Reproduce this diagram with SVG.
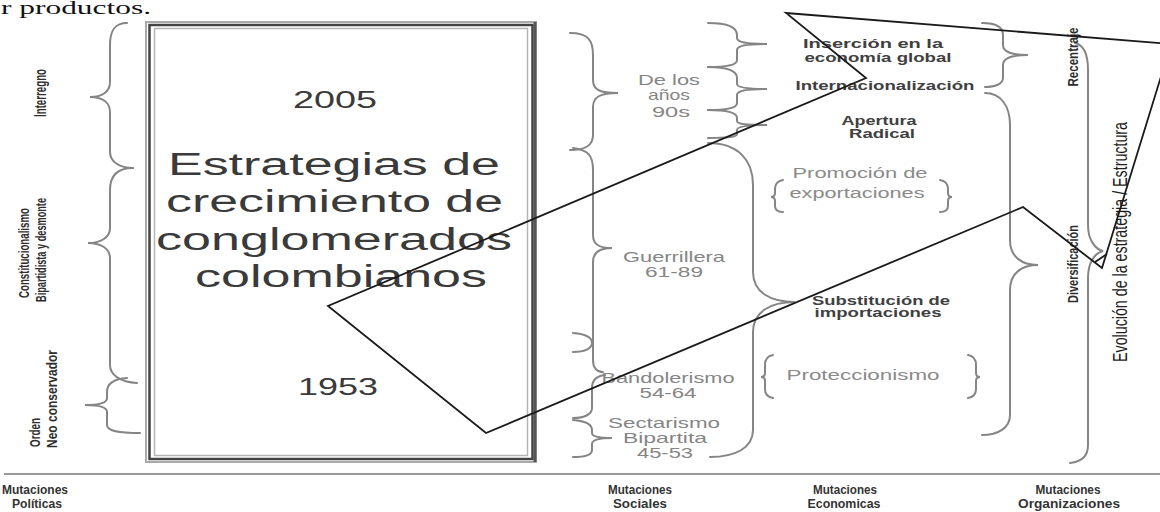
<svg xmlns="http://www.w3.org/2000/svg" width="1160" height="512" viewBox="0 0 1160 512">
<style>
.br{fill:none;stroke:#858585;stroke-width:2;stroke-linecap:round}
.big{font-family:"Liberation Sans",Arial,sans-serif;fill:#3a3a3a}
.soc{font-family:"Liberation Sans",Arial,sans-serif;fill:#858585;font-size:15px}
.eco{font-family:"Liberation Sans",Arial,sans-serif;fill:#8a8a8a;font-size:14px}
.bold{font-family:"Liberation Sans",Arial,sans-serif;fill:#404040;font-size:12.5px;font-weight:bold}
.vert{font-family:"Liberation Sans",Arial,sans-serif;fill:#2e2e2e;font-weight:bold;font-size:11px}
.foot{font-family:"Liberation Sans",Arial,sans-serif;fill:#333333;font-size:13px;font-weight:bold}
.poly{fill:none;stroke:#1a1a1a;stroke-width:1.8;stroke-linejoin:miter}
</style>
<rect width="1160" height="512" fill="#ffffff"/>
<text x="1" y="14" font-family="Liberation Serif, serif" font-size="18" fill="#111" textLength="150" lengthAdjust="spacingAndGlyphs">r productos.</text>

<g id="politicas">
<path class="br" d="M127,23 C115,23 110,30 110,45 L110,82 C110,92 102,97 90,97 C102,97 110,102 110,112 L110,152 C110,162 120,168 133,168"/>
<path class="br" d="M133,168 C118,168 110,175 110,190 L110,228 C110,238 100,243 88,243 C100,243 110,248 110,258 L110,365 C110,375 120,382 137,383"/>
<path class="br" d="M127,378 C112,379 107,384 107,392 L107,398 C107,403 98,405 85,405 C98,405 107,407 107,412 L107,425 C107,431 118,433 140,433"/>
<text class="vert" text-anchor="middle" transform="translate(45.5,93) rotate(-90) scale(1,1.45)" textLength="48" lengthAdjust="spacingAndGlyphs">Interregno</text>
<text class="vert" text-anchor="middle" transform="translate(29,253) rotate(-90) scale(1,1.4)" textLength="90" lengthAdjust="spacingAndGlyphs">Constitucionalismo</text>
<text class="vert" text-anchor="middle" transform="translate(45.5,250) rotate(-90) scale(1,1.4)" textLength="104" lengthAdjust="spacingAndGlyphs">Bipartidista y desmonte</text>
<text class="vert" text-anchor="start" transform="translate(40,447) rotate(-90) scale(1,1.4)" textLength="29" lengthAdjust="spacingAndGlyphs">Orden</text>
<text class="vert" text-anchor="start" transform="translate(56.5,448) rotate(-90) scale(1,1.4)" textLength="98" lengthAdjust="spacingAndGlyphs">Neo conservador</text>
</g>

<g id="titulo">
<rect x="146" y="22" width="390" height="440" fill="none" stroke="#aaaaaa" stroke-width="2"/>
<rect x="149.5" y="25" width="383" height="434" fill="none" stroke="#444444" stroke-width="2.5"/>
<rect x="154.5" y="28.5" width="373" height="427" fill="none" stroke="#b5b5b5" stroke-width="1.5"/>
<line x1="535" y1="22" x2="535" y2="462" stroke="#555555" stroke-width="3"/>
<text class="big" x="335" y="108" font-size="24" text-anchor="middle" textLength="84" lengthAdjust="spacingAndGlyphs">2005</text>
<text class="big" x="334" y="175" font-size="31" text-anchor="middle" textLength="332" lengthAdjust="spacingAndGlyphs">Estrategias de</text>
<text class="big" x="334.5" y="212" font-size="31" text-anchor="middle" textLength="337" lengthAdjust="spacingAndGlyphs">crecimiento de</text>
<text class="big" x="334" y="250" font-size="31" text-anchor="middle" textLength="356" lengthAdjust="spacingAndGlyphs">conglomerados</text>
<text class="big" x="341" y="287" font-size="31" text-anchor="middle" textLength="292" lengthAdjust="spacingAndGlyphs">colombianos</text>
<text class="big" x="338" y="395" font-size="24" text-anchor="middle" textLength="80" lengthAdjust="spacingAndGlyphs">1953</text>
</g>

<g id="sociales">
<path class="br" d="M570,33 C588,33 593,40 593,55 L593,80 C593,90 600,93 618,93 C600,93 593,97 593,107 L593,135 C593,146 585,150 570,150"/>
<path class="br" d="M573,148 C588,150 593,155 593,170 L593,235 C593,245 600,248 612,248 C600,248 593,252 593,262 L593,360 C593,368 597,372 603,372"/>
<path class="br" d="M573,333 C586,334 592,338 592,343 C592,348 586,352 573,352"/>
<path class="br" d="M605,375 C597,376 592,380 592,388 L592,408 C592,414 585,418 573,418"/>
<path class="br" d="M573,420 C585,421 592,424 592,430 L592,433 C592,437 600,438 612,438 C600,438 592,440 592,444 L592,450 C592,455 585,457 573,457"/>
<text class="soc" x="669" y="85" text-anchor="middle" textLength="62" lengthAdjust="spacingAndGlyphs">De los</text>
<text class="soc" x="669" y="100" text-anchor="middle" textLength="42" lengthAdjust="spacingAndGlyphs">años</text>
<text class="soc" x="671" y="117" text-anchor="middle" textLength="38" lengthAdjust="spacingAndGlyphs">90s</text>
<text class="soc" x="674" y="262" text-anchor="middle" textLength="102" lengthAdjust="spacingAndGlyphs">Guerrillera</text>
<text class="soc" x="674" y="277" text-anchor="middle" textLength="58" lengthAdjust="spacingAndGlyphs">61-89</text>
<text class="soc" x="668" y="383" text-anchor="middle" textLength="133" lengthAdjust="spacingAndGlyphs">Bandolerismo</text>
<text class="soc" x="668" y="398" text-anchor="middle" textLength="57" lengthAdjust="spacingAndGlyphs">54-64</text>
<text class="soc" x="664" y="428" text-anchor="middle" textLength="112" lengthAdjust="spacingAndGlyphs">Sectarismo</text>
<text class="soc" x="665" y="443" text-anchor="middle" textLength="84" lengthAdjust="spacingAndGlyphs">Bipartita</text>
<text class="soc" x="665" y="458" text-anchor="middle" textLength="56" lengthAdjust="spacingAndGlyphs">45-53</text>
</g>

<g id="economicas">
<path class="br" d="M708,23 C728,23 737,27 737,35 L737,38 C737,42 745,44 767,44 C745,44 737,46 737,50 L737,60 C737,65 728,67 708,67"/>
<path class="br" d="M708,67 C728,67 737,71 737,78 L737,84 C737,87 745,89 767,89 C745,89 737,91 737,95 L737,103 C737,108 728,110 708,110"/>
<path class="br" d="M708,110 C728,110 737,113 737,118 L737,121 C737,124 745,125 767,125 C745,125 737,127 737,130 L737,134 C737,137 728,138 708,138"/>
<path class="br" d="M708,143 C738,143 753,160 753,185 L753,272 C753,292 770,302 795,302 C770,302 753,312 753,332 L753,430 C753,448 735,457 710,457"/>
<path class="br" d="M783,180 C777,181 775,184 775,189 L775,193 C775,196 773,197 771,197 C773,197 775,198 775,201 L775,206 C775,210 777,212 783,212"/>
<path class="br" d="M940,180 C946,181 948,184 948,189 L948,193 C948,196 950,197 952,197 C950,197 948,198 948,201 L948,206 C948,210 946,212 940,212"/>
<path class="br" d="M773,355 C767,356 765,360 765,365 L765,373 C765,376 763,377 761,377 C763,377 765,378 765,381 L765,389 C765,394 767,397 773,398"/>
<path class="br" d="M968,355 C974,356 976,360 976,365 L976,373 C976,376 978,377 980,377 C978,377 976,378 976,381 L976,389 C976,394 974,397 968,398"/>
<path class="br" d="M982,23 C995,23 1003,27 1003,35 L1003,45 C1003,52 1012,55 1028,55 C1012,55 1003,58 1003,65 L1003,78 C1003,84 995,87 985,87"/>
<path class="br" d="M985,93 C1000,93 1010,105 1010,125 L1010,240 C1010,257 1022,265 1038,265 C1022,265 1010,273 1010,290 L1010,415 C1010,428 998,435 982,435"/>
<text class="bold" x="873" y="48" text-anchor="middle" textLength="140" lengthAdjust="spacingAndGlyphs">Inserción en la</text>
<text class="bold" x="878" y="62" text-anchor="middle" textLength="147" lengthAdjust="spacingAndGlyphs">economía global</text>
<text class="bold" x="885" y="90" text-anchor="middle" textLength="179" lengthAdjust="spacingAndGlyphs">Internacionalización</text>
<text class="bold" x="879" y="125" text-anchor="middle" textLength="75" lengthAdjust="spacingAndGlyphs">Apertura</text>
<text class="bold" x="882" y="138" text-anchor="middle" textLength="66" lengthAdjust="spacingAndGlyphs">Radical</text>
<text class="eco" x="860" y="178" text-anchor="middle" textLength="135" lengthAdjust="spacingAndGlyphs">Promoción de</text>
<text class="eco" x="857" y="198" text-anchor="middle" textLength="135" lengthAdjust="spacingAndGlyphs">exportaciones</text>
<text class="bold" x="881" y="305" text-anchor="middle" textLength="138" lengthAdjust="spacingAndGlyphs">Substitución de</text>
<text class="bold" x="878" y="317" text-anchor="middle" textLength="127" lengthAdjust="spacingAndGlyphs">importaciones</text>
<text class="eco" x="863" y="380" font-size="15" text-anchor="middle" textLength="153" lengthAdjust="spacingAndGlyphs">Proteccionismo</text>
</g>

<g id="organizaciones">
<path class="br" d="M1075,43 C1084,45 1088,55 1088,70 L1088,225 C1088,240 1095,249 1103,251 C1095,253 1088,262 1088,278 L1088,445 C1088,457 1080,462 1070,463"/>
<text class="vert" text-anchor="middle" transform="translate(1077.5,57) rotate(-90) scale(1,1.4)" textLength="59" lengthAdjust="spacingAndGlyphs">Recentraje</text>
<text class="vert" text-anchor="middle" transform="translate(1077.5,264) rotate(-90) scale(1,1.4)" textLength="78" lengthAdjust="spacingAndGlyphs">Diversificación</text>
<text font-family="Liberation Sans, Arial, sans-serif" font-size="14" fill="#1e1e1e" text-anchor="middle" transform="translate(1127,242) rotate(-90) scale(1,1.4)" textLength="240" lengthAdjust="spacingAndGlyphs">Evolución de la estrategia / Estructura</text>
</g>

<g id="flecha">
<polygon class="poly" points="786,13 1171,44 1102,268 1023,207 486,433 328,306 866,78"/>
<path class="poly" d="M1095,262 L1107,254"/>
</g>

<g id="pie">
<line x1="4" y1="474" x2="1160" y2="474" stroke="#9a9a9a" stroke-width="2"/>
<text class="foot" x="2" y="494" textLength="66" lengthAdjust="spacingAndGlyphs">Mutaciones</text>
<text class="foot" x="37" y="508" text-anchor="middle" textLength="50" lengthAdjust="spacingAndGlyphs">Políticas</text>
<text class="foot" x="640" y="494" text-anchor="middle" textLength="64" lengthAdjust="spacingAndGlyphs">Mutaciones</text>
<text class="foot" x="640" y="508" text-anchor="middle" textLength="54" lengthAdjust="spacingAndGlyphs">Sociales</text>
<text class="foot" x="845" y="494" text-anchor="middle" textLength="64" lengthAdjust="spacingAndGlyphs">Mutaciones</text>
<text class="foot" x="844" y="508" text-anchor="middle" textLength="73" lengthAdjust="spacingAndGlyphs">Economicas</text>
<text class="foot" x="1068" y="494" text-anchor="middle" textLength="65" lengthAdjust="spacingAndGlyphs">Mutaciones</text>
<text class="foot" x="1069" y="508" text-anchor="middle" textLength="102" lengthAdjust="spacingAndGlyphs">Organizaciones</text>
</g>
</svg>
